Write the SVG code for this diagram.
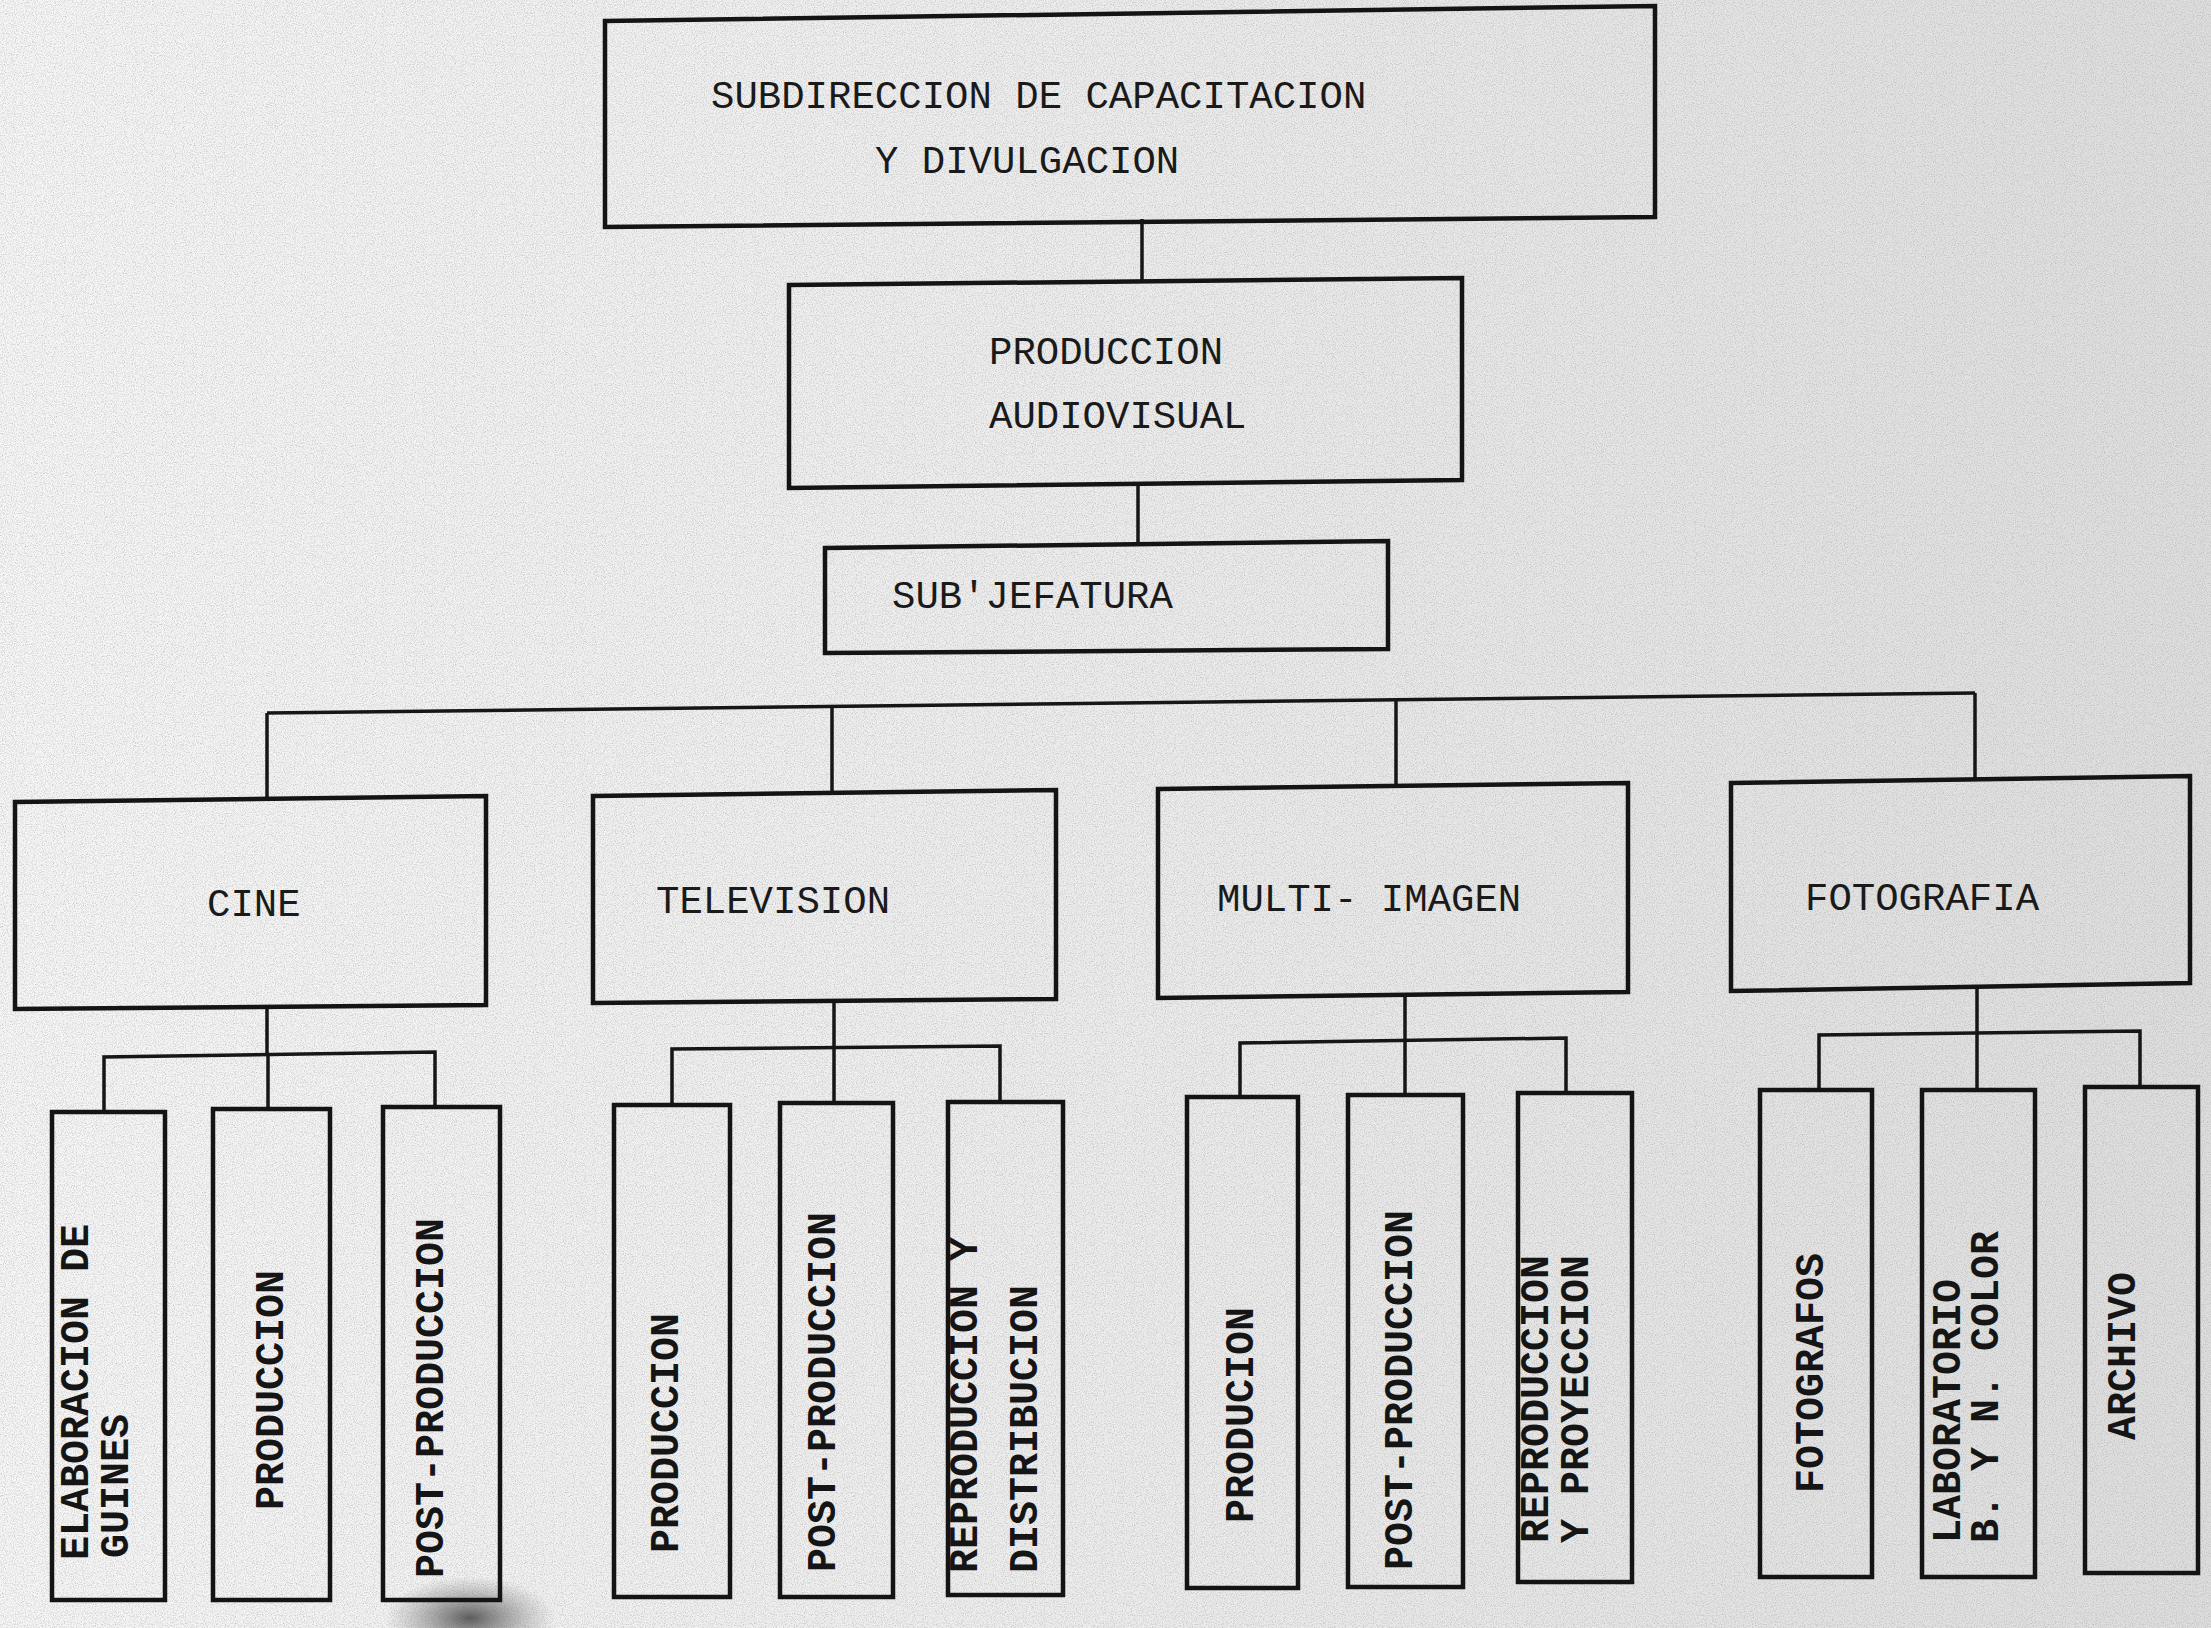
<svg xmlns="http://www.w3.org/2000/svg" width="2211" height="1628" viewBox="0 0 2211 1628">
<defs>
<linearGradient id="paper" x1="0" y1="0" x2="1" y2="0">
<stop offset="0" stop-color="#f6f6f6"/>
<stop offset="0.5" stop-color="#ededed"/>
<stop offset="1" stop-color="#dedede"/>
</linearGradient>
<filter id="grain" x="0" y="0" width="100%" height="100%">
<feTurbulence type="fractalNoise" baseFrequency="0.9" numOctaves="2" seed="3" result="n"/>
<feColorMatrix in="n" type="matrix" values="0 0 0 0 0.35  0 0 0 0 0.35  0 0 0 0 0.35  0 0 0 -2.2 1.25"/>
</filter>
<radialGradient id="smudge" cx="0.5" cy="0.5" r="0.5">
<stop offset="0" stop-color="#444" stop-opacity="0.85"/>
<stop offset="1" stop-color="#777" stop-opacity="0"/>
</radialGradient>
<style>
.box{fill:none;stroke:#141414;stroke-width:4.5;stroke-linejoin:miter}
.con{fill:none;stroke:#161616;stroke-width:3.5}
.h{font-family:"Liberation Mono","DejaVu Sans Mono",monospace;font-size:39px;fill:#1a1a1a}
.v{font-family:"Liberation Mono","DejaVu Sans Mono",monospace;font-size:40px;font-weight:bold;fill:#151515}
</style>
</defs>
<rect x="0" y="0" width="2211" height="1628" fill="url(#paper)"/>
<rect x="0" y="0" width="2211" height="1628" filter="url(#grain)" opacity="0.55"/>
<ellipse cx="470" cy="1618" rx="85" ry="42" fill="url(#smudge)"/>

<g id="connectors">
<path class="con" d="M1142 219 V282"/>
<path class="con" d="M1138 484 V545"/>
<path class="con" d="M267 713 L1975 693"/>
<path class="con" d="M267 713 V800"/>
<path class="con" d="M832 706 V793"/>
<path class="con" d="M1396 700 V788"/>
<path class="con" d="M1975 693 V778"/>
<path class="con" d="M267 1007 V1055"/>
<path class="con" d="M104 1112 V1057 L435 1052 V1107"/>
<path class="con" d="M834 1001 V1047"/>
<path class="con" d="M672 1105 V1049 L1000 1046 V1102"/>
<path class="con" d="M1405 995 V1041"/>
<path class="con" d="M1240 1097 V1043 L1566 1038 V1093"/>
<path class="con" d="M1977 987 V1033"/>
<path class="con" d="M1819 1090 V1035 L2140 1031 V1087"/>
<path class="con" d="M268 1055 V1109"/>
<path class="con" d="M834 1047 V1103"/>
<path class="con" d="M1405 1041 V1095"/>
<path class="con" d="M1977 1033 V1090"/>
</g>

<g id="n-subdireccion">
<path class="box" d="M605 21 L1655 6 L1655 217 L605 227 Z"/>
<text class="h" x="711" y="108">SUBDIRECCION DE CAPACITACION</text>
<text class="h" x="875" y="173">Y DIVULGACION</text>
</g>
<g id="n-produccion-av">
<path class="box" d="M789 285 L1462 278 L1462 480 L789 488 Z"/>
<text class="h" x="989" y="364">PRODUCCION</text>
<text class="h" x="989" y="428">AUDIOVISUAL</text>
</g>
<g id="n-subjefatura">
<path class="box" d="M825 548 L1388 541 L1388 649 L825 653 Z"/>
<text class="h" x="892" y="608">SUB'JEFATURA</text>
</g>
<g id="n-cine">
<path class="box" d="M15 802 L486 796 L486 1005 L15 1009 Z"/>
<text class="h" x="207" y="916">CINE</text>
</g>
<g id="n-television">
<path class="box" d="M593 796 L1056 790 L1056 999 L593 1003 Z"/>
<text class="h" x="656" y="913">TELEVISION</text>
</g>
<g id="n-multi">
<path class="box" d="M1158 789 L1628 783 L1628 992 L1158 998 Z"/>
<text class="h" x="1217" y="911">MULTI- IMAGEN</text>
</g>
<g id="n-fotografia">
<path class="box" d="M1731 783 L2190 776 L2190 983 L1731 991 Z"/>
<text class="h" x="1805" y="910">FOTOGRAFIA</text>
</g>

<g id="n-cine-guiones">
<rect class="box" x="52" y="1112" width="113" height="488"/>
<text class="v" transform="translate(88 1560) rotate(-90)">ELABORACION DE</text>
<text class="v" transform="translate(128 1558) rotate(-90)">GUINES</text>
</g>
<g id="n-cine-produccion">
<rect class="box" x="213" y="1109" width="117" height="491"/>
<text class="v" transform="translate(283 1510) rotate(-90)">PRODUCCION</text>
</g>
<g id="n-cine-post">
<rect class="box" x="383" y="1107" width="117" height="493"/>
<text class="v" transform="translate(443 1578) rotate(-90)">POST-PRODUCCION</text>
</g>

<g id="n-tv-produccion">
<rect class="box" x="614" y="1105" width="116" height="492"/>
<text class="v" transform="translate(678 1553) rotate(-90)">PRODUCCION</text>
</g>
<g id="n-tv-post">
<rect class="box" x="780" y="1103" width="113" height="494"/>
<text class="v" transform="translate(835 1572) rotate(-90)">POST-PRODUCCION</text>
</g>
<g id="n-tv-repro">
<rect class="box" x="948" y="1102" width="115" height="493"/>
<text class="v" transform="translate(977 1573) rotate(-90)">REPRODUCCION Y</text>
<text class="v" transform="translate(1037 1573) rotate(-90)">DISTRIBUCION</text>
</g>

<g id="n-multi-produccion">
<rect class="box" x="1187" y="1097" width="111" height="491"/>
<text class="v" transform="translate(1253 1523) rotate(-90)">PRODUCION</text>
</g>
<g id="n-multi-post">
<rect class="box" x="1348" y="1095" width="115" height="492"/>
<text class="v" transform="translate(1412 1570) rotate(-90)">POST-PRODUCCION</text>
</g>
<g id="n-multi-repro">
<rect class="box" x="1518" y="1093" width="114" height="489"/>
<text class="v" transform="translate(1548 1543) rotate(-90)">REPRODUCCION</text>
<text class="v" transform="translate(1588 1543) rotate(-90)">Y PROYECCION</text>
</g>

<g id="n-foto-fotografos">
<rect class="box" x="1760" y="1090" width="112" height="487"/>
<text class="v" transform="translate(1823 1493) rotate(-90)">FOTOGRAFOS</text>
</g>
<g id="n-foto-lab">
<rect class="box" x="1922" y="1090" width="113" height="487"/>
<text class="v" transform="translate(1960 1543) rotate(-90)">LABORATORIO</text>
<text class="v" transform="translate(1998 1543) rotate(-90)">B. Y N. COLOR</text>
</g>
<g id="n-foto-archivo">
<rect class="box" x="2085" y="1087" width="113" height="486"/>
<text class="v" transform="translate(2135 1440) rotate(-90)">ARCHIVO</text>
</g>
</svg>
